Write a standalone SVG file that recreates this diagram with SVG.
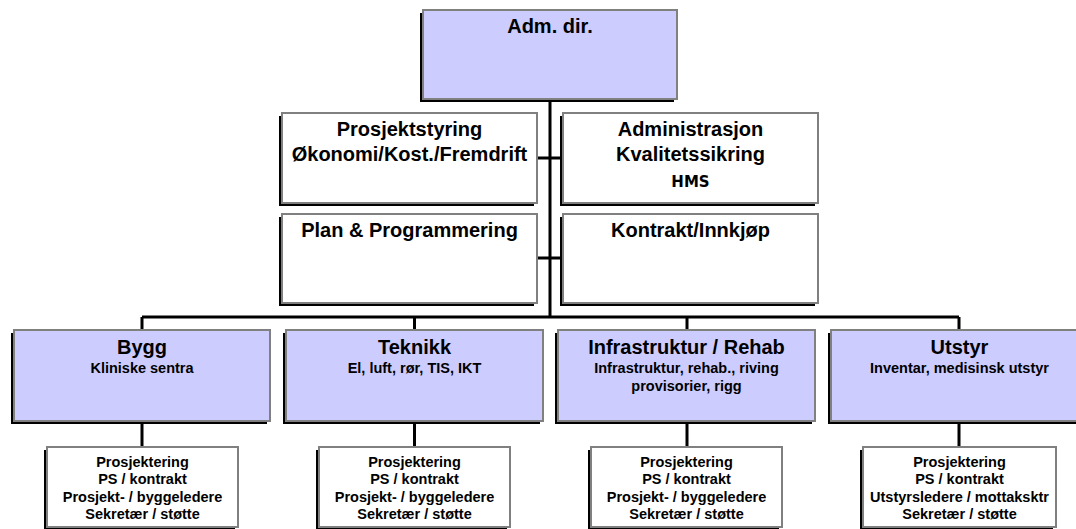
<svg xmlns="http://www.w3.org/2000/svg" width="1076" height="529" viewBox="0 0 1076 529">
<style>
.sh{fill:#000}
.bx{fill:#fff;stroke:#808080;stroke-width:2}
.bl{fill:#ccccff;stroke:#808080;stroke-width:2}
.t{font-family:"Liberation Sans",Arial,sans-serif;font-weight:bold;fill:#000;text-anchor:middle}
.h{font-size:20px}
.s{font-size:14.5px}
.hms{font-family:"Comic Sans MS","DejaVu Sans",sans-serif;font-weight:bold;font-size:15px;text-anchor:middle}
.ln{stroke:#000;stroke-width:3;fill:none}
</style>
<rect width="1076" height="529" fill="#fff"/>
<g id="connectors">
<path class="ln" d="M550 99V317M537 158H563M537 258H563"/>
<path class="ln" d="M142 317H959M142 317V330M414.5 317V330M687 317V330M959 317V330"/>
<path class="ln" d="M142 422V447M414.5 422V447M687 422V447M959 422V447"/>
</g>
<g id="adm">
<rect class="sh" x="420" y="13" width="254" height="89"/>
<rect class="bl" x="423" y="10" width="254" height="89"/>
<text class="t h" x="550" y="33">Adm. dir.</text>
</g>
<g id="prosjektstyring">
<rect class="sh" x="279" y="116" width="255" height="90"/>
<rect class="bx" x="282" y="113" width="255" height="90"/>
<text class="t h" x="409.5" y="136">Prosjektstyring</text>
<text class="t h" x="409.5" y="161">Økonomi/Kost./Fremdrift</text>
</g>
<g id="administrasjon">
<rect class="sh" x="560" y="116" width="255" height="90"/>
<rect class="bx" x="563" y="113" width="255" height="90"/>
<text class="t h" x="690.5" y="136">Administrasjon</text>
<text class="t h" x="690.5" y="161">Kvalitetssikring</text>
<text class="hms" x="690.5" y="187">HMS</text>
</g>
<g id="plan">
<rect class="sh" x="279" y="217" width="255" height="89"/>
<rect class="bx" x="282" y="214" width="255" height="89"/>
<text class="t h" x="409.5" y="237">Plan &amp; Programmering</text>
</g>
<g id="kontrakt">
<rect class="sh" x="560" y="217" width="255" height="89"/>
<rect class="bx" x="563" y="214" width="255" height="89"/>
<text class="t h" x="690.5" y="237">Kontrakt/Innkjøp</text>
</g>
<g id="bygg">
<rect class="sh" x="11" y="333" width="256" height="91"/>
<rect class="bl" x="14" y="330" width="256" height="91"/>
<text class="t h" x="142" y="354">Bygg</text>
<text class="t s" x="142" y="373">Kliniske sentra</text>
</g>
<g id="teknikk">
<rect class="sh" x="283" y="333" width="257" height="91"/>
<rect class="bl" x="286" y="330" width="257" height="91"/>
<text class="t h" x="414.5" y="354">Teknikk</text>
<text class="t s" x="414.5" y="373">El, luft, rør, TIS, IKT</text>
</g>
<g id="infrastruktur">
<rect class="sh" x="555" y="333" width="257" height="91"/>
<rect class="bl" x="558" y="330" width="257" height="91"/>
<text class="t h" x="686.5" y="354">Infrastruktur / Rehab</text>
<text class="t s" x="686.5" y="373">Infrastruktur, rehab., riving</text>
<text class="t s" x="686.5" y="391">provisorier, rigg</text>
</g>
<g id="utstyr">
<rect class="sh" x="828" y="333" width="257" height="91"/>
<rect class="bl" x="831" y="330" width="257" height="91"/>
<text class="t h" x="959.5" y="354">Utstyr</text>
<text class="t s" x="959.5" y="373">Inventar, medisinsk utstyr</text>
</g>
<g id="bygg-sub">
<rect class="sh" x="44" y="450" width="191" height="80"/>
<rect class="bx" x="47" y="447" width="191" height="80"/>
<text class="t s" x="142.5" y="467">Prosjektering</text>
<text class="t s" x="142.5" y="484">PS / kontrakt</text>
<text class="t s" x="142.5" y="501.5">Prosjekt- / byggeledere</text>
<text class="t s" x="142.5" y="518.5">Sekretær / støtte</text>
</g>
<g id="teknikk-sub">
<rect class="sh" x="316" y="450" width="191" height="80"/>
<rect class="bx" x="319" y="447" width="191" height="80"/>
<text class="t s" x="414.5" y="467">Prosjektering</text>
<text class="t s" x="414.5" y="484">PS / kontrakt</text>
<text class="t s" x="414.5" y="501.5">Prosjekt- / byggeledere</text>
<text class="t s" x="414.5" y="518.5">Sekretær / støtte</text>
</g>
<g id="infrastruktur-sub">
<rect class="sh" x="588" y="450" width="191" height="80"/>
<rect class="bx" x="591" y="447" width="191" height="80"/>
<text class="t s" x="686.5" y="467">Prosjektering</text>
<text class="t s" x="686.5" y="484">PS / kontrakt</text>
<text class="t s" x="686.5" y="501.5">Prosjekt- / byggeledere</text>
<text class="t s" x="686.5" y="518.5">Sekretær / støtte</text>
</g>
<g id="utstyr-sub">
<rect class="sh" x="860" y="450" width="193" height="80"/>
<rect class="bx" x="863" y="447" width="193" height="80"/>
<text class="t s" x="959.5" y="467">Prosjektering</text>
<text class="t s" x="959.5" y="484">PS / kontrakt</text>
<text class="t s" x="959.5" y="501.5">Utstyrsledere / mottaksktr</text>
<text class="t s" x="959.5" y="518.5">Sekretær / støtte</text>
</g>
</svg>
